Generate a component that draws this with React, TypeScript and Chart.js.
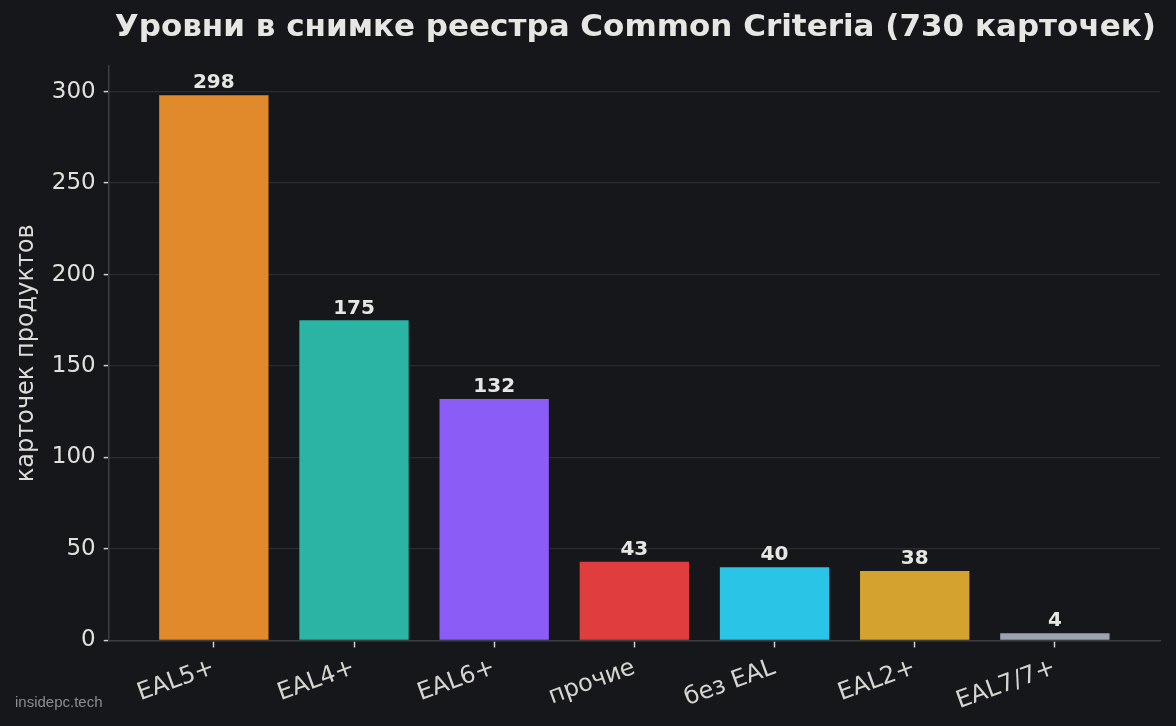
import { useEffect, useRef } from 'react';
import { Chart, registerables } from 'chart.js';

Chart.register(...registerables);

const categories = ['EAL5+', 'EAL4+', 'EAL6+', 'прочие', 'без EAL', 'EAL2+', 'EAL7/7+'];
const counts = [298, 175, 132, 43, 40, 38, 4];
const barColors = ['#e08a2c', '#2bb3a4', '#8b5cf6', '#e03e3e', '#29c4e6', '#d4a32f', '#9ca3af'];
const yTicks = [0, 50, 100, 150, 200, 250, 300];

const BG = '#16171b';
const TEXT = '#e6e6e2';
const FONT = '"DejaVu Sans", sans-serif';

const overlay = {
  id: 'overlay',
  afterDatasetsDraw(chart: Chart) {
    const { ctx, chartArea } = chart;
    const meta = chart.getDatasetMeta(0);
    ctx.save();
    ctx.fillStyle = TEXT;
    ctx.font = `bold 20px ${FONT}`;
    ctx.textAlign = 'center';
    ctx.textBaseline = 'bottom';
    meta.data.forEach((bar: any, i: number) => {
      ctx.fillText(String(counts[i]), bar.x, bar.y - 2);
    });
    ctx.font = `bold 31px ${FONT}`;
    ctx.textBaseline = 'middle';
    ctx.fillText('Уровни в снимке реестра Common Criteria (730 карточек)', (chartArea.left + chartArea.right) / 2 + 1, 28);
    ctx.font = `15px "Liberation Sans Narrow", "Liberation Sans", sans-serif`;
    ctx.fillStyle = '#8a8c90';
    ctx.textAlign = 'left';
    ctx.fillText('insidepc.tech', 15, 703);
    ctx.restore();
  },
};

export default function App() {
  const canvasRef = useRef<HTMLCanvasElement>(null);

  useEffect(() => {
    document.body.style.margin = '0';
    if (!canvasRef.current) return;
    const chart = new Chart(canvasRef.current, {
      type: 'bar',
      data: {
        datasets: [
          {
            data: counts.map((v, i) => ({ x: i, y: v })),
            backgroundColor: barColors,
            borderWidth: 0,
            barPercentage: 0.78,
            categoryPercentage: 1,
          },
        ],
      },
      options: {
        animation: false,
        responsive: false,
        devicePixelRatio: 1,
        layout: { padding: { top: 66, right: 16, bottom: 4, left: 12 } },
        plugins: { legend: { display: false }, tooltip: { enabled: false }, title: { display: false } },
        scales: {
          x: {
            type: 'linear',
            min: -0.75,
            max: 6.75,
            offset: false,
            afterBuildTicks: (scale: any) => {
              scale.ticks = categories.map((_, i) => ({ value: i }));
            },
            ticks: {
              autoSkip: false,
              minRotation: 20,
              maxRotation: 20,
              color: '#d4d4d0',
              font: { family: FONT, size: 24 },
              padding: 6,
              callback: (v: any) => categories[Number(v)] ?? '',
            },
            grid: { offset: false, drawOnChartArea: false, drawTicks: true, tickLength: 7, tickWidth: 1.5, tickColor: '#d0d0d0' },
            border: { display: true, color: '#3c3e43', width: 1.5 },
          },
          y: {
            min: 0,
            max: 314,
            afterBuildTicks: (scale: any) => {
              scale.ticks = yTicks.map((v) => ({ value: v }));
            },
            ticks: {
              color: '#e0e0dc',
              font: { family: FONT, size: 23 },
              padding: 8,
            },
            grid: { color: '#2a2c31', lineWidth: 1.2, tickLength: 5, tickWidth: 1.5, tickColor: '#d0d0d0' },
            border: { display: true, color: '#3c3e43', width: 1.5 },
            title: {
              display: true,
              text: 'карточек продуктов',
              color: '#dcdcd8',
              font: { family: FONT, size: 24 },
              padding: { top: 0, bottom: 3 },
            },
          },
        },
      },
      plugins: [overlay],
    });
    return () => chart.destroy();
  }, []);

  return (
    <div style={{ width: 1176, height: 726, background: BG }}>
      <canvas ref={canvasRef} width={1176} height={726} style={{ display: 'block' }} />
    </div>
  );
}
